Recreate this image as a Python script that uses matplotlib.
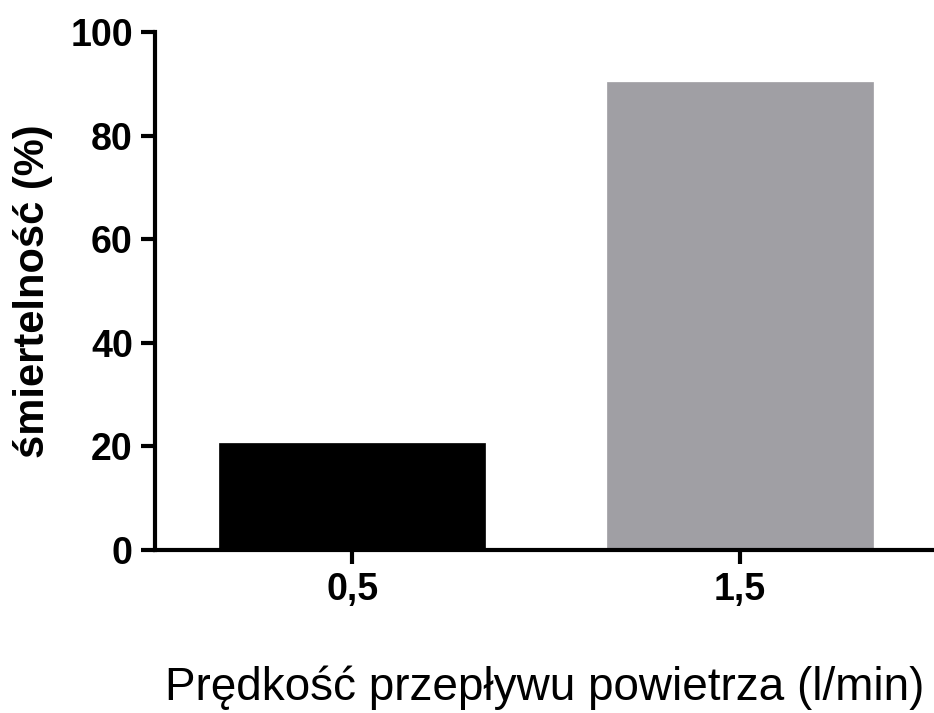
import matplotlib
matplotlib.use("Agg")
import matplotlib.pyplot as plt

categories = ["0,5", "1,5"]
values = [20.7, 90.4]
colors = ["#000000", "#a09fa4"]
yticks = [0, 20, 40, 60, 80, 100]

plt.rcParams['font.family'] = ['Liberation Sans', 'DejaVu Sans']

fig = plt.figure(figsize=(9.34, 7.13), dpi=100)
ax = fig.add_axes([155/934, 1-550/713, 1-155/934, (550-32)/713])

x = list(range(len(categories)))
ax.bar(x, values, width=0.686, color=colors, edgecolor=colors, linewidth=0.5, zorder=1)

ax.set_xlim(-0.508, 1.5)
ax.set_ylim(0, 100)
ax.set_yticks(yticks)
ax.set_yticklabels([str(v) for v in yticks])
ax.set_xticks(x)
ax.set_xticklabels(categories)

for s in ["top", "right"]:
    ax.spines[s].set_visible(False)
for s in ["left", "bottom"]:
    ax.spines[s].set_linewidth(3)
    ax.spines[s].set_zorder(3)

ax.tick_params(axis='both', direction='out', length=10, width=3, labelsize=27, pad=6)
for lbl in ax.get_xticklabels() + ax.get_yticklabels():
    lbl.set_fontweight('bold')

ax.set_ylabel("śmiertelność (%)", fontsize=30, fontweight='bold', labelpad=12)
ax.set_xlabel("Prędkość przepływu powietrza (l/min)", fontsize=33, labelpad=41)

fig.savefig("out.png", dpi=100)
